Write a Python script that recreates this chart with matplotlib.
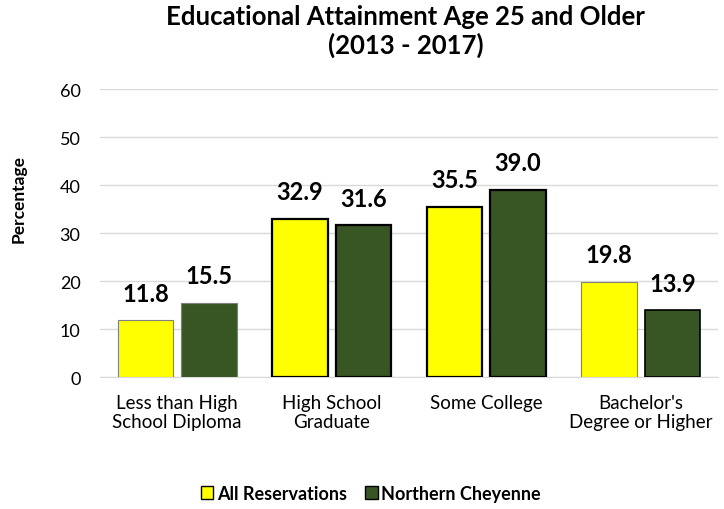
import numpy as np
import matplotlib
matplotlib.use('Agg')
import matplotlib.pyplot as plt
from matplotlib.patches import Patch

categories = ["Less than High\nSchool Diploma", "High School\nGraduate",
              "Some College", "Bachelor's\nDegree or Higher"]
all_res = [11.8, 32.9, 35.5, 19.8]
n_cheyenne = [15.5, 31.6, 39.0, 13.9]
series_names = ["All Reservations", "Northern Cheyenne"]

plt.rcParams['font.family'] = ['Lato', 'DejaVu Sans']

yellow = '#ffff00'
green = '#375623'

fig = plt.figure(figsize=(7.24, 5.10), dpi=100)
ax = fig.add_axes([0.138, 0.2588, 0.854, 0.5647])

x = np.arange(len(categories))
w = 0.36
off = 0.205

# edges differ a bit bar by bar in the original
y_edges = [('#7f7f7f', 0.8), ('black', 1.6), ('black', 1.6), ('#7f7f7f', 0.8)]
g_edges = [('#7f7f7f', 0.8), ('black', 1.6), ('black', 1.6), ('black', 1.2)]

for i in range(len(categories)):
    ax.bar(x[i] - off, all_res[i], w, color=yellow,
           edgecolor=y_edges[i][0], linewidth=y_edges[i][1], zorder=3)
    ax.bar(x[i] + off, n_cheyenne[i], w, color=green,
           edgecolor=g_edges[i][0], linewidth=g_edges[i][1], zorder=3)
    ax.text(x[i] - off, all_res[i] + 4.1, f"{all_res[i]:.1f}", ha='center',
            va='baseline', fontsize=17, fontweight='bold')
    ax.text(x[i] + off, n_cheyenne[i] + 4.1, f"{n_cheyenne[i]:.1f}", ha='center',
            va='baseline', fontsize=17, fontweight='bold')

ax.set_xlim(-0.5, 3.5)
ax.set_ylim(0, 60)
ax.set_yticks(range(0, 61, 10))
ax.yaxis.grid(True, color='#d9d9d9', linewidth=1, zorder=0)
for s in ['top', 'right', 'left']:
    ax.spines[s].set_visible(False)
ax.spines['bottom'].set_color('#d9d9d9')
ax.tick_params(axis='y', length=0, labelsize=13, pad=14)
ax.tick_params(axis='x', length=0, labelsize=13.5, pad=12)
ax.set_xticks(x)
ax.set_xticklabels(categories)
ax.set_ylabel('Percentage', fontsize=12.5, fontweight='bold')
ax.yaxis.set_label_coords(-0.118, 0.62)

fig.suptitle('Educational Attainment Age 25 and Older\n(2013 - 2017)',
             x=0.56, y=0.99, fontsize=18.5, fontweight='bold', linespacing=1.15)

handles = [Patch(facecolor=yellow, edgecolor='black', linewidth=1),
           Patch(facecolor=green, edgecolor='black', linewidth=1)]
fig.legend(handles, series_names, loc='center', bbox_to_anchor=(0.512, 0.031),
           ncol=2, frameon=False, prop={'weight': 'bold', 'size': 13},
           handlelength=0.7, handleheight=0.7, handletextpad=0.2, columnspacing=1.0)

fig.savefig('out.png', dpi=100)
